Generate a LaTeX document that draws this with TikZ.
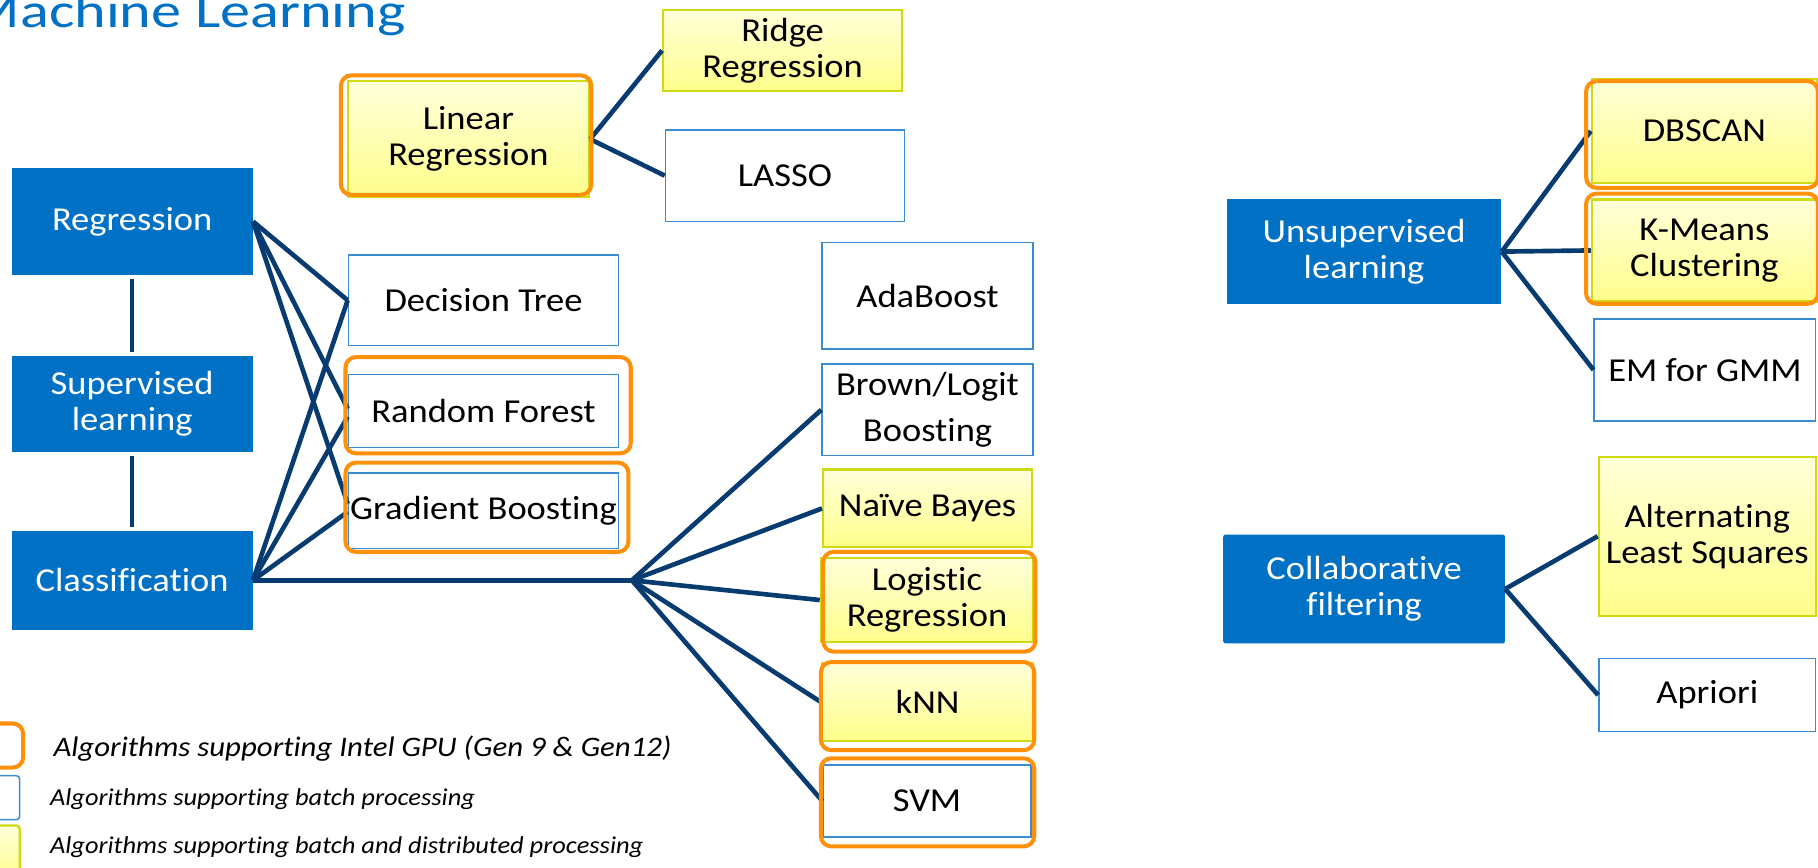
\documentclass[tikz,border=0pt]{standalone}
\usepackage{fontspec}
\setmainfont{Carlito}[FakeStretch=1.09, Ligatures=NoCommon]
\newfontfamily\titlefont{Carlito}[FakeStretch=1.24, Ligatures=NoCommon]
\usepackage{tikz}
\usetikzlibrary{positioning}

\definecolor{hdrblue}{RGB}{0,113,197}
\definecolor{linkblue}{RGB}{8,60,112}
\definecolor{gpuorange}{RGB}{255,145,10}
\definecolor{batchblue}{RGB}{60,140,210}
\definecolor{distedge}{RGB}{205,218,20}
\definecolor{distlight}{RGB}{255,255,218}
\definecolor{distdark}{RGB}{255,255,140}

\tikzset{
  hdr/.style={fill=hdrblue, text=white, minimum width=#1, align=center,
    font=\fontsize{29}{31}\selectfont, inner sep=0pt},
  batch/.style={draw=batchblue, line width=1.3bp, fill=white, minimum width=#1,
    align=center, font=\fontsize{29}{31}\selectfont, inner sep=0pt},
  dist/.style={draw=distedge, line width=2bp, top color=distlight, bottom color=distdark,
    minimum width=#1, align=center, font=\fontsize{29}{31}\selectfont, inner sep=0pt},
  gpu/.style={draw=gpuorange, line width=3.5bp, rounded corners=9bp},
  link/.style={draw=linkblue, line width=4bp},
  keytext/.style={anchor=west, inner sep=0pt, font=\itshape\fontsize{#1}{#1}\selectfont}
}

\begin{document}
\begin{tikzpicture}[x=1bp, y=-1bp]
\useasboundingbox (0,0) rectangle (1568,748);

\node[anchor=base west, inner sep=0pt, text=hdrblue, font=\titlefont\fontsize{42}{42}\selectfont] (title) at (-27,24) {Machine Learning};

% supervised learning
\node[hdr=208bp, minimum height=93bp] (reg) at (114,191) {Regression};
\node[hdr=208bp, minimum height=83bp] (sup) at (114,348.5) {Supervised\\learning};
\node[hdr=208bp, minimum height=85bp] (cls) at (114,500.5) {Classification};
\draw[link, shorten <=3bp, shorten >=3bp] (reg.south) -- (sup.north);
\draw[link, shorten <=3bp, shorten >=3bp] (sup.south) -- (cls.north);

\node[dist=208bp, minimum height=100bp] (linreg) at (404,120) {Linear\\Regression};
\node[dist=206bp, minimum height=70bp] (ridge) at (675,43.5) {Ridge\\Regression};
\node[batch=206bp, minimum height=79bp] (lasso) at (677,151.5) {LASSO};
\node[batch=233bp, minimum height=78bp] (dtree) at (417,259) {Decision Tree};
\node[batch=233bp, minimum height=63bp] (rforest) at (417,354.5) {Random Forest};
\node[batch=233bp, minimum height=65bp] (gboost) at (417,440.5) {Gradient Boosting};

\node[batch=182bp, minimum height=92bp] (ada) at (800,255) {AdaBoost};
\node[batch=182bp, minimum height=79bp] (brown) at (800,353.5) {Brown/Logit\\[9bp]Boosting};
\node[dist=180bp, minimum height=67bp] (nbayes) at (800,438.5) {Naïve Bayes};
\node[dist=183bp, minimum height=73bp] (logreg) at (799.5,517.5) {Logistic\\Regression};
\node[dist=182bp, minimum height=67bp] (knn) at (800,605.5) {kNN};
\node[batch=179bp, minimum height=62bp] (svm) at (799.5,691) {SVM};

\draw[link] (linreg.east) -- (ridge.west);
\draw[link] (linreg.east) -- (lasso.west);
\draw[link] (reg.east) -- (dtree.west);
\draw[link] (reg.east) -- ([yshift=2bp]rforest.west);
\draw[link] (reg.east) -- ([yshift=6bp]gboost.west);
\draw[link] (cls.east) -- (dtree.west);
\draw[link] (cls.east) -- ([yshift=-5bp]rforest.west);
\draw[link] (cls.east) -- ([yshift=-1bp]gboost.west);

\coordinate (hub) at (545,500.5);
\draw[link] (cls.east) -- (hub);
\foreach \leaf in {brown, nbayes, logreg, knn, svm}
  \draw[link] (hub) -- (\leaf.west);

% unsupervised learning
\node[hdr=237bp, minimum height=90bp] (uns) at (1176.5,217) {Unsupervised\\learning};
\node[dist=194bp, minimum height=90bp] (dbscan) at (1470,113) {DBSCAN};
\node[dist=194bp, minimum height=88bp] (kmeans) at (1470,216) {K-Means\\Clustering};
\node[batch=191bp, minimum height=88bp] (emgmm) at (1470.5,319) {EM for GMM};
\foreach \leaf in {dbscan, kmeans, emgmm}
  \draw[link] (uns.east) -- (\leaf.west);

% collaborative filtering
\node[hdr=243bp, minimum height=94bp, rounded corners=2bp] (cf) at (1176.5,508) {Collaborative\\filtering};
\node[dist=187bp, minimum height=137bp] (als) at (1472.5,462.5) {Alternating\\Least Squares};
\node[batch=187bp, minimum height=63bp] (apriori) at (1472.5,599.5) {Apriori};
\draw[link] (cf.east) -- (als.west);
\draw[link] (cf.east) -- (apriori.west);

% GPU frames
\draw[gpu] (294,65) rectangle (510,168);
\draw[gpu] (298,308) rectangle (544,391);
\draw[gpu] (298,399) rectangle (542,476);
\draw[gpu] (710,476) rectangle (893,562);
\draw[gpu] (708,571) rectangle (892,647);
\draw[gpu] (708,654) rectangle (892,730);
\draw[gpu] (1368,70) rectangle (1568,162);
\draw[gpu] (1368,167) rectangle (1568,262);

% legend
\draw[gpu] (-12,624) rectangle (20,662);
\draw[draw=batchblue, line width=1.3bp, rounded corners=3bp] (-10,669) rectangle (17,707);
\draw[draw=distedge, line width=2bp, top color=distlight, bottom color=distdark, rounded corners=3bp] (-10,712) rectangle (17,760);
\node[keytext=24.5] (keygpu) at (46,646) {Algorithms supporting Intel GPU (Gen 9 \& Gen12)};
\node[keytext=21] (keybatch) at (43,689) {Algorithms supporting batch processing};
\node[keytext=21] (keydist) at (43,731) {Algorithms supporting batch and distributed processing};
\end{tikzpicture}
\end{document}
